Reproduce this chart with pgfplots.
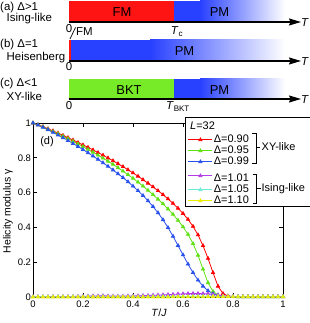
\documentclass[border=0pt]{standalone}
\usepackage{fontspec}
\setmainfont{Liberation Sans}
\usepackage{pgfplots}
\pgfplotsset{compat=1.18}
\usepackage{pgfplotstable}
\usetikzlibrary{arrows.meta}
\definecolor{fmred}{RGB}{255,20,20}
\definecolor{pmblue}{RGB}{40,64,255}
\definecolor{bktgreen}{RGB}{120,235,40}
\definecolor{cr}{RGB}{255,0,0}
\definecolor{cg}{RGB}{95,225,20}
\definecolor{cb}{RGB}{40,80,235}
\definecolor{cp}{RGB}{180,60,230}
\definecolor{cc}{RGB}{110,235,215}
\definecolor{cy}{RGB}{235,235,0}
\newcommand\fa{\fontsize{11.5}{12}\selectfont}
\newcommand\fb{\fontsize{13}{14}\selectfont}
\newcommand\fl{\fontsize{11}{11}\selectfont}

\pgfplotstableread{
T r g b p c y
0.00 1.000 1.000 1.000 0.002 0.001 0.000
0.02 0.990 0.989 0.988 0.002 0.001 0.000
0.04 0.979 0.977 0.975 0.002 0.002 0.000
0.06 0.967 0.964 0.961 0.002 0.001 0.000
0.08 0.955 0.951 0.946 0.003 0.001 0.000
0.10 0.942 0.938 0.931 0.002 0.002 0.000
0.12 0.929 0.924 0.915 0.003 0.001 0.000
0.14 0.916 0.910 0.899 0.003 0.001 0.000
0.16 0.902 0.895 0.882 0.003 0.002 0.000
0.18 0.888 0.880 0.865 0.004 0.001 0.000
0.20 0.874 0.864 0.847 0.004 0.001 0.000
0.22 0.860 0.848 0.829 0.005 0.002 0.000
0.24 0.845 0.832 0.810 0.006 0.001 0.000
0.26 0.830 0.815 0.791 0.006 0.001 0.000
0.28 0.815 0.798 0.771 0.007 0.002 0.000
0.30 0.799 0.780 0.751 0.006 0.001 0.000
0.32 0.783 0.762 0.730 0.005 0.001 0.000
0.34 0.766 0.743 0.708 0.005 0.002 0.000
0.36 0.749 0.723 0.686 0.005 0.001 0.000
0.38 0.731 0.703 0.662 0.006 0.001 0.000
0.40 0.713 0.682 0.637 0.006 0.002 0.000
0.42 0.694 0.660 0.611 0.007 0.001 0.000
0.44 0.674 0.637 0.583 0.008 0.001 0.000
0.46 0.654 0.613 0.553 0.009 0.002 0.000
0.48 0.633 0.588 0.520 0.010 0.002 0.000
0.50 0.611 0.562 0.484 0.011 0.002 0.000
0.52 0.588 0.535 0.444 0.012 0.002 0.000
0.54 0.564 0.506 0.399 0.014 0.003 0.000
0.56 0.538 0.475 0.349 0.015 0.002 0.001
0.58 0.510 0.441 0.296 0.017 0.003 0.001
0.60 0.480 0.403 0.242 0.018 0.003 0.001
0.62 0.446 0.360 0.189 0.019 0.003 0.001
0.64 0.406 0.307 0.140 0.020 0.004 0.001
0.66 0.357 0.240 0.097 0.020 0.004 0.001
0.68 0.295 0.160 0.062 0.019 0.004 0.001
0.70 0.222 0.082 0.036 0.018 0.004 0.002
0.72 0.140 0.032 0.019 0.015 0.004 0.002
0.74 0.062 0.011 0.009 0.011 0.004 0.002
0.76 0.020 0.004 0.004 0.007 0.003 0.002
0.78 0.006 0.002 0.002 0.004 0.003 0.002
0.80 0.003 0.002 0.002 0.003 0.002 0.001
0.82 0.002 0.001 0.001 0.002 0.002 0.001
0.84 0.002 0.001 0.001 0.002 0.002 0.001
0.86 0.002 0.001 0.001 0.002 0.002 0.001
0.88 0.002 0.001 0.001 0.002 0.002 0.001
0.90 0.002 0.001 0.001 0.002 0.002 0.001
0.92 0.002 0.001 0.001 0.002 0.002 0.001
0.94 0.002 0.001 0.001 0.002 0.002 0.001
0.96 0.002 0.001 0.001 0.002 0.002 0.001
0.98 0.002 0.001 0.001 0.002 0.002 0.001
1.00 0.002 0.001 0.001 0.002 0.002 0.001
}\datatab

\begin{document}
\begin{tikzpicture}
\useasboundingbox (0bp,0bp) rectangle (310bp,323bp);
% ---------- schematic phase diagrams ----------
\begin{axis}[at={(0bp,0bp)}, anchor=origin, scale only axis,
  width=310bp, height=323bp, xmin=0, xmax=310, ymin=0, ymax=323,
  hide axis, clip=false]
% (a)
\addplot[draw=none, fill=fmred] coordinates {(69,301)(174,301)(174,322)(69,322)} -- cycle;
\addplot[draw=none, fill=pmblue] coordinates {(174,301)(200,301)(200,322)(174,322)} -- cycle;
\addplot[draw=none, left color=pmblue, right color=white] coordinates {(200,301)(285,301)(285,322)(200,322)} -- cycle;
\addplot[black, line width=1.2bp, -{Stealth[length=12bp,width=7bp,inset=1.5bp]}] coordinates {(68.5,301)(301,301)};
% (b)
\addplot[draw=none, fill=fmred] coordinates {(69,262)(71,262)(71,283)(69,283)} -- cycle;
\addplot[draw=none, fill=pmblue] coordinates {(71,262)(150,262)(150,283)(71,283)} -- cycle;
\addplot[draw=none, left color=pmblue, right color=white] coordinates {(150,262)(285,262)(285,283)(150,283)} -- cycle;
\addplot[black, line width=1.2bp, -{Stealth[length=12bp,width=7bp,inset=1.5bp]}] coordinates {(68.5,262)(301,262)};
\addplot[black, line width=0.7bp] coordinates {(70,284)(75.5,295.5)};
% (c)
\addplot[draw=none, fill=bktgreen] coordinates {(69,224)(174,224)(174,244)(69,244)} -- cycle;
\addplot[draw=none, fill=pmblue] coordinates {(174,224)(200,224)(200,244)(174,244)} -- cycle;
\addplot[draw=none, left color=pmblue, right color=white] coordinates {(200,224)(285,224)(285,244)(200,244)} -- cycle;
\addplot[black, line width=1.2bp, -{Stealth[length=12bp,width=7bp,inset=1.5bp]}] coordinates {(68.5,224)(301,224)};
% labels
\node[font=\fb] at (122,311.3) {FM};
\node[font=\fb] at (219.5,311.3) {PM};
\node[font=\fb] at (184.5,272) {PM};
\node[font=\fb] at (129,232.5) {BKT};
\node[font=\fb] at (219.5,232.5) {PM};
\node[font=\fa, inner sep=0pt, anchor=west] at (301,300.5) {\textit{T}};
\node[font=\fa, inner sep=0pt, anchor=west] at (301,261.5) {\textit{T}};
\node[font=\fa, inner sep=0pt, anchor=west] at (301,223.5) {\textit{T}};
\node[font=\fa, inner sep=0pt] at (69,294.5) {0};
\node[font=\fa, inner sep=0pt] at (69,256.3) {0};
\node[font=\fa, inner sep=0pt] at (69,217) {0};
\node[font=\fa, inner sep=0pt] at (177,291) {\textit{T}\textsubscript{c}};
\node[font=\fa, inner sep=0pt] at (178,216.5) {\textit{T}\textsubscript{BKT}};
\node[font=\fa, inner sep=0pt, anchor=west] at (76,291.3) {FM};
\node[font=\fa, inner sep=0pt, anchor=west] at (0,315.7) {(a) Δ>1};
\node[font=\fa, inner sep=0pt, anchor=west] at (6.5,304) {Ising-like};
\node[font=\fa, inner sep=0pt, anchor=west] at (0,278) {(b) Δ=1};
\node[font=\fa, inner sep=0pt, anchor=west] at (6.5,265.7) {Heisenberg};
\node[font=\fa, inner sep=0pt, anchor=west] at (0,239.7) {(c) Δ<1};
\node[font=\fa, inner sep=0pt, anchor=west] at (6.5,226.3) {XY-like};
\end{axis}
% ---------- helicity modulus ----------
\begin{axis}[at={(33bp,26bp)}, anchor=origin, scale only axis,
  width=250bp, height=174bp, xmin=0, xmax=1, ymin=0, ymax=1, clip=false,
  tick align=inside, major tick length=4bp,
  xtick={0,0.2,0.4,0.6,0.8,1}, ytick={0,0.2,0.4,0.6,0.8,1},
  xticklabels={0,0.2,0.4,0.6,0.8,1}, yticklabels={0,0.2,0.4,0.6,0.8,1},
  ticklabel style={font=\fontsize{9.5}{10}\selectfont},
  yticklabel style={xshift=1.5bp},
  /pgf/number format/assume math mode=true,
  axis line style={line width=0.8bp},
  every tick/.style={black, line width=0.7bp},
  xlabel={\textit{T}/\textit{J}},
  xlabel style={at={(axis description cs:0.504,-0.092)}, anchor=center, font=\fontsize{10.5}{11}\selectfont},
  ylabel={Helicity modulus γ},
  ylabel style={at={(axis description cs:-0.1,0.494)}, anchor=center, font=\fontsize{10.5}{11}\selectfont},
  legend style={at={(0.62,0.935)}, anchor=north west, draw=none, fill=none,
    inner sep=0pt, outer sep=0pt, row sep=0pt, column sep=1bp,
    font=\fl, nodes={inner sep=0pt, text height=8bp, text depth=3bp}},
  legend cell align=left,
  legend image code/.code={\draw[mark repeat=2,mark phase=2] plot coordinates {(0bp,0bp)(12bp,0bp)(24bp,0bp)};},
  every axis plot/.append style={line width=0.8bp, mark=triangle*, mark size=1.8bp, mark options={solid}},
]
\addplot[color=cr] table[x=T,y=r]{\datatab};
\addlegendentry{Δ=0.90}
\addplot[color=cg] table[x=T,y=g]{\datatab};
\addlegendentry{Δ=0.95}
\addplot[color=cb] table[x=T,y=b]{\datatab};
\addlegendentry{Δ=0.99}
\addplot[color=cp] table[x=T,y=p]{\datatab};
\addlegendentry[text height=14bp]{Δ=1.01}
\addplot[color=cc] table[x=T,y=c]{\datatab};
\addlegendentry{Δ=1.05}
\addplot[color=cy] table[x=T,y=y]{\datatab};
\addlegendentry{Δ=1.10}
\draw[fill=white, line width=0.8bp] (axis cs:0.608,1.0305) rectangle (axis cs:1.11,0.52);
\node[font=\fontsize{11}{11}\selectfont] at (axis cs:0.056,0.891) {(d)};
\node[font=\fl, inner sep=0pt, anchor=west] at (axis cs:0.628,0.985) {\textit{L}=32};
\draw[line width=0.8bp] (axis cs:0.876,0.9425) -- (axis cs:0.892,0.9425) -- (axis cs:0.892,0.7701) -- (axis cs:0.876,0.7701);
\draw[line width=0.8bp] (axis cs:0.892,0.8621) -- (axis cs:0.908,0.8621);
\node[font=\fl, inner sep=0pt, anchor=west] at (axis cs:0.914,0.8621) {XY-like};
\draw[line width=0.8bp] (axis cs:0.878,0.7069) -- (axis cs:0.894,0.7069) -- (axis cs:0.894,0.5402) -- (axis cs:0.878,0.5402);
\draw[line width=0.8bp] (axis cs:0.894,0.6235) -- (axis cs:0.91,0.6235);
\node[font=\fl, inner sep=0pt, anchor=west] at (axis cs:0.914,0.6235) {Ising-like};
\end{axis}
\end{tikzpicture}
\end{document}
